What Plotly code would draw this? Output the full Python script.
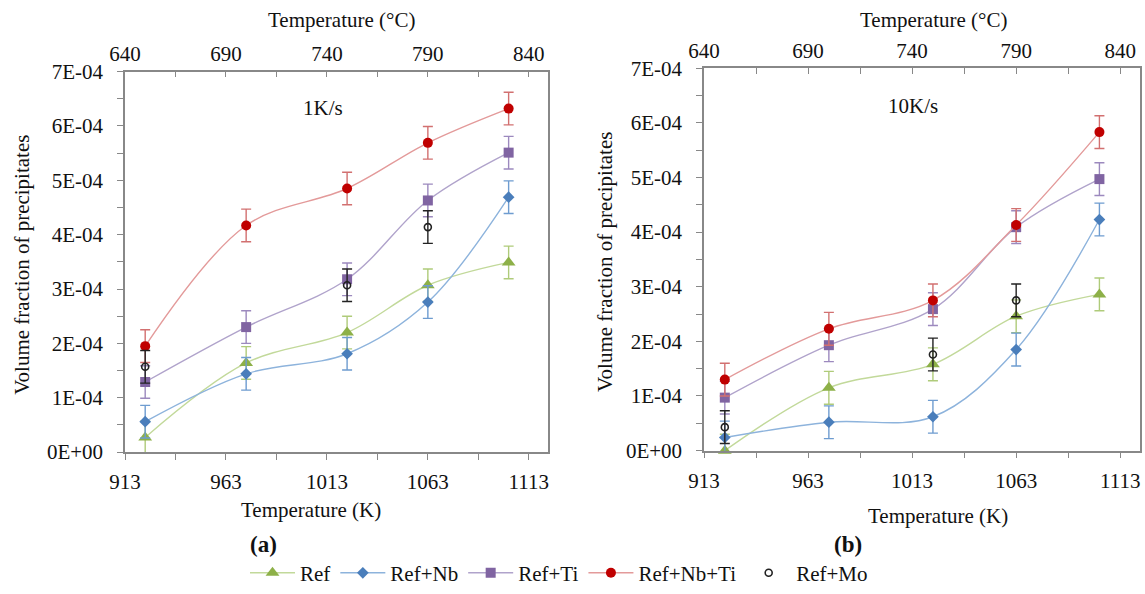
import plotly.graph_objects as go

# Temperatures (K) of the measured points
temps_k = [923, 973, 1023, 1063, 1103]
temps_k_mo = [923, 1023, 1063]

# Volume fraction of precipitates (x1E-04), cooling rate 1 K/s
ref_1k = [0.27, 1.64, 2.20, 3.07, 3.49]
nb_1k = [0.56, 1.44, 1.81, 2.76, 4.69]
ti_1k = [1.29, 2.30, 3.18, 4.63, 5.51]
nbti_1k = [1.95, 4.17, 4.85, 5.69, 6.32]
mo_1k = [1.57, 3.07, 4.14]

# Volume fraction of precipitates (x1E-04), cooling rate 10 K/s
ref_10k = [0.00, 1.15, 1.58, 2.46, 2.86]
nb_10k = [0.24, 0.52, 0.62, 1.85, 4.23]
ti_10k = [0.97, 1.93, 2.59, 4.09, 4.97]
nbti_10k = [1.30, 2.23, 2.75, 4.13, 5.83]
mo_10k = [0.43, 1.76, 2.75]

# Error bar half-widths (x1E-04)
err_1k = {"Ref": [0.3] * 5, "Ref+Nb": [0.3] * 5, "Ref+Ti": [0.3] * 5,
          "Ref+Nb+Ti": [0.3] * 5, "Ref+Mo": [0.3] * 3}
err_10k = {"Ref": [0.3] * 5, "Ref+Nb": [0.3] * 5, "Ref+Ti": [0.3] * 5,
           "Ref+Nb+Ti": [0.3] * 5, "Ref+Mo": [0.3] * 3}

y_tick_vals = [0, 1, 2, 3, 4, 5, 6, 7]
y_tick_text = ["0E+00", "1E-04", "2E-04", "3E-04", "4E-04", "5E-04", "6E-04", "7E-04"]
k_ticks = [913, 963, 1013, 1063, 1113]
c_ticks = [640, 690, 740, 790, 840]
SCALE = 1e-4

FONT = "Times New Roman, Liberation Serif, DejaVu Serif, serif"
TXT = "#111111"
W, H = 1145, 594

styles = {
    "Ref": dict(marker="triangle-up", msize=12, mcolor="#8DB048",
                lcolor="#C2D99A", ecolor="#AFCB7A"),
    "Ref+Nb": dict(marker="diamond", msize=9, mcolor="#4A7EBB",
                   lcolor="#8DB3DC", ecolor="#6E9CD0"),
    "Ref+Ti": dict(marker="square", msize=10, mcolor="#8064A2",
                   lcolor="#B0A3CB", ecolor="#9C89BE"),
    "Ref+Nb+Ti": dict(marker="circle", msize=10, mcolor="#C00000",
                      lcolor="#E39A9A", ecolor="#D27070"),
}

fig = go.Figure()


def add_panel(series, mo_vals, errs, xa, ya, show_legend):
    for name, vals in series:
        st = styles[name]
        fig.add_trace(go.Scatter(
            x=temps_k, y=[v * SCALE for v in vals], name=name,
            mode="lines+markers", xaxis=xa, yaxis=ya,
            line=dict(color=st["lcolor"], width=1.4, shape="spline", smoothing=1.0),
            marker=dict(symbol=st["marker"], size=st["msize"], color=st["mcolor"],
                        line=dict(width=0)),
            error_y=dict(type="data", array=[e * SCALE for e in errs[name]],
                         color=st["ecolor"], thickness=1.4, width=5),
            showlegend=show_legend, cliponaxis=False,
        ))
    fig.add_trace(go.Scatter(
        x=temps_k_mo, y=[v * SCALE for v in mo_vals], name="Ref+Mo",
        mode="markers", xaxis=xa, yaxis=ya,
        marker=dict(symbol="circle-open", size=7, color="#222222",
                    line=dict(width=1.6, color="#222222")),
        error_y=dict(type="data", array=[e * SCALE for e in errs["Ref+Mo"]],
                     color="#222222", thickness=1.4, width=5),
        showlegend=show_legend, cliponaxis=False,
    ))


add_panel([("Ref", ref_1k), ("Ref+Nb", nb_1k), ("Ref+Ti", ti_1k),
           ("Ref+Nb+Ti", nbti_1k)], mo_1k, err_1k, "x", "y", True)
add_panel([("Ref", ref_10k), ("Ref+Nb", nb_10k), ("Ref+Ti", ti_10k),
           ("Ref+Nb+Ti", nbti_10k)], mo_10k, err_10k, "x3", "y2", False)

# Invisible traces so the Celsius axes are drawn
for xa, ya in (("x2", "y"), ("x4", "y2")):
    fig.add_trace(go.Scatter(x=[700], y=[None], xaxis=xa, yaxis=ya,
                             mode="markers", showlegend=False, hoverinfo="skip"))

AX_COL = "#888888"
tickfont = dict(family=FONT, size=21, color=TXT)


def px_x(p):
    return p / W


def px_y(p):
    return 1 - p / H


def k_axis(dom, anchor):
    return dict(domain=dom, anchor=anchor, range=[913, 1122.5], tickmode="array",
                tickvals=k_ticks, ticks="outside", ticklen=6, tickwidth=1.3,
                tickcolor=AX_COL, showline=True, linecolor=AX_COL, linewidth=1.5,
                showgrid=False, zeroline=False, tickfont=tickfont, automargin=False,
                ticklabelstandoff=4,
                minor=dict(ticks="outside", tickmode="array",
                           tickvals=[938, 988, 1038, 1088], ticklen=6,
                           tickwidth=1.3, tickcolor=AX_COL))


def c_axis(over, anchor):
    return dict(overlaying=over, anchor=anchor, side="top", range=[640, 849.5],
                tickmode="array", tickvals=c_ticks,
                ticks="inside", ticklen=6, tickwidth=1.3, tickcolor=AX_COL,
                showline=True, linecolor=AX_COL, linewidth=1.5, showgrid=False,
                zeroline=False, tickfont=tickfont, automargin=False,
                ticklabelstandoff=0,
                minor=dict(ticks="inside", tickmode="array",
                           tickvals=[665, 715, 765, 815], ticklen=6,
                           tickwidth=1.3, tickcolor=AX_COL))


def v_axis(dom, anchor):
    return dict(domain=dom, anchor=anchor, range=[0, 7e-4], tickmode="array",
                tickvals=[v * SCALE for v in y_tick_vals], ticktext=y_tick_text,
                ticks="outside", ticklen=6, tickwidth=1.3, tickcolor=AX_COL,
                showline=True, mirror=True, linecolor=AX_COL, linewidth=1.5,
                showgrid=False, zeroline=False, tickfont=tickfont, automargin=False,
                ticklabelstandoff=10,
                minor=dict(ticks="outside", tickmode="array",
                           tickvals=[(v + 0.5) * SCALE for v in y_tick_vals[:-1]],
                           ticklen=6, tickwidth=1.3, tickcolor=AX_COL))


left_x = [px_x(125), px_x(548)]
left_y = [px_y(457.5), px_y(72.5)]
right_x = [px_x(704), px_x(1140)]
right_y = [px_y(456), px_y(69)]

fig.update_layout(
    width=W, height=H,
    margin=dict(l=0, r=0, t=0, b=0),
    paper_bgcolor="white", plot_bgcolor="white",
    font=dict(family=FONT, size=21, color=TXT),
    xaxis=k_axis(left_x, "y"),
    xaxis2=c_axis("x", "y"),
    yaxis=v_axis(left_y, "x"),
    xaxis3=k_axis(right_x, "y2"),
    xaxis4=c_axis("x3", "y2"),
    yaxis2=v_axis(right_y, "x3"),
    legend=dict(orientation="h", x=px_x(559), xanchor="center", y=px_y(580),
                yanchor="middle", font=dict(family=FONT, size=21, color=TXT),
                itemwidth=45, tracegroupgap=0, bgcolor="rgba(0,0,0,0)"),
)

annots = [
    # axis titles
    dict(x=px_x(22), y=px_y(268), text="Volume fraction of precipitates", textangle=-90),
    dict(x=px_x(605), y=px_y(265), text="Volume fraction of precipitates", textangle=-90),
    dict(x=px_x(311), y=px_y(516), text="Temperature (K)"),
    dict(x=px_x(938), y=px_y(522), text="Temperature (K)"),
    dict(x=px_x(341), y=px_y(20), text="Temperature (°C)"),
    dict(x=px_x(933), y=px_y(20), text="Temperature (°C)"),
    # panel texts
    dict(x=px_x(323), y=px_y(109), text="1K/s"),
    dict(x=px_x(913), y=px_y(107), text="10K/s"),
    dict(x=px_x(263), y=px_y(551), text="<b>(a)</b>", size=23),
    dict(x=px_x(848), y=px_y(551), text="<b>(b)</b>", size=23),
]
for a in annots:
    size = a.pop("size", 21)
    fig.add_annotation(xref="paper", yref="paper", showarrow=False,
                       xanchor="center", yanchor="middle",
                       font=dict(family=FONT, size=size, color=TXT), **a)

fig.write_html("out.html")
